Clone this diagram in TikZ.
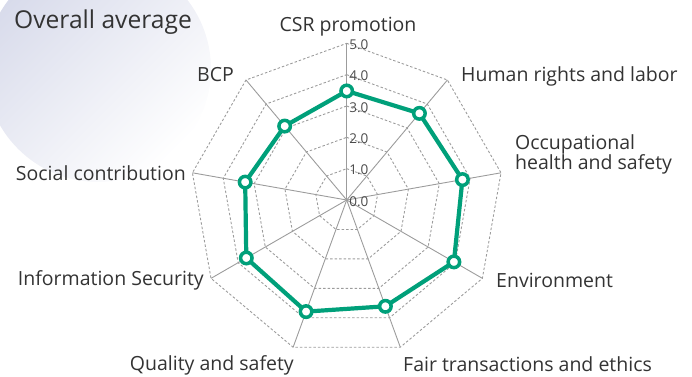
\documentclass[tikz,border=0pt]{standalone}
\usepackage{fontspec}
\setmainfont{Open Sans}
\usetikzlibrary{calc}
\definecolor{txt}{HTML}{333333}
\definecolor{tickc}{HTML}{4A4A4A}
\definecolor{gridc}{HTML}{9C9C9C}
\definecolor{grn}{HTML}{00A07A}
\definecolor{lav}{HTML}{D8DBEB}
\begin{document}
\begin{tikzpicture}[x=1pt,y=-1pt,
  lbl/.style={text=txt, font=\fontsize{19.5}{20}\selectfont, inner sep=0pt},
  ttl/.style={text=txt, font=\fontsize{24.6}{26}\selectfont, inner sep=0pt},
  tick/.style={text=tickc, font=\fontsize{13.5}{14}\selectfont, inner sep=0pt, anchor=west},
  spoke/.style={draw=gridc, line width=0.9pt},
  ring/.style={draw=gridc, line width=0.9pt, dash pattern=on 2.5pt off 2pt},
  series/.style={draw=grn, line width=4.2pt, line join=round},
  dot/.style={circle, draw=grn, fill=white, line width=3.5pt, minimum size=11.5pt, inner sep=0pt},
]
\useasboundingbox (0,0) rectangle (692,376);
\shade[top color=lav, bottom color=white, shading angle=45] (98,69) circle (113);
\node[ttl, anchor=base west] (title) at (14,28) {Overall average};

\begin{scope}[shift={(346.7,200)}]
  \coordinate (O) at (0,0);
  \foreach \r in {31.333,62.667,94,125.333,156.667}
    \draw[ring] (-90:\r) \foreach \i in {1,...,8} { -- ({-90+40*\i}:\r) } -- cycle;
  \foreach \i in {0,...,8} {
    \coordinate (e\i) at ({-90+40*\i}:156.667);
    \draw[spoke] (O) -- (e\i);
  }
  \foreach \k in {0,...,5}
    \node[tick] (t\k) at (2.5,{-\k*31.333+1.5}) {\k.0};
  \foreach \v [count=\i from 0] in {3.48,3.61,3.75,3.95,3.61,3.79,3.70,3.29,3.08}
    \coordinate (d\i) at ({-90+40*\i}:{\v*31.333});
  \draw[series] (d0) -- (d1) -- (d2) -- (d3) -- (d4) -- (d5) -- (d6) -- (d7) -- (d8) -- cycle;
  \foreach \i in {0,...,8}
    \node[dot] (p\i) at (d\i) {};
\end{scope}

\node[lbl, anchor=base] (l0) at (348,31) {CSR promotion};
\node[lbl, anchor=base west] (l1) at (461,81) {Human rights and labor};
\node[lbl, anchor=base west, align=left] (l2) at (515,169) {Occupational\\health and safety};
\node[lbl, anchor=base west] (l3) at (496,287) {Environment};
\node[lbl, anchor=base west] (l4) at (403,371) {Fair transactions and ethics};
\node[lbl, anchor=base east] (l5) at (294,370) {Quality and safety};
\node[lbl, anchor=base east] (l6) at (204,285) {Information Security};
\node[lbl, anchor=base east] (l7) at (186,180) {Social contribution};
\node[lbl, anchor=base east] (l8) at (234,81) {BCP};
\end{tikzpicture}
\end{document}
